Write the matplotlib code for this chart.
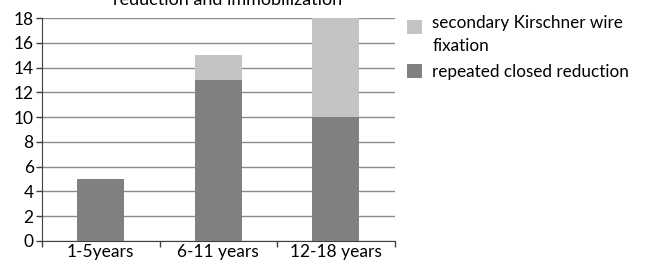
import matplotlib.pyplot as plt
import numpy as np

plt.rcParams['font.family'] = ['Lato', 'DejaVu Sans']

groups = ["1-5years", "6-11 years", "12-18 years"]
closed_reduction = [5, 13, 10]
kirschner_wire = [0, 2, 8]

x = np.arange(len(groups))

fig = plt.figure(figsize=(6.46, 2.65), dpi=100)
ax = fig.add_axes([0.065, 0.0906, 0.546, 0.8414])

ax.bar(x, closed_reduction, width=0.4, color='#808080', zorder=3,
       label='repeated closed reduction')
ax.bar(x, kirschner_wire, width=0.4, bottom=closed_reduction, color='#c4c4c4',
       zorder=3, label='secondary Kirschner wire\nfixation')

ax.set_xlim(-0.5, 2.5)
ax.set_ylim(0, 18)
ax.set_yticks(np.arange(0, 19, 2))
ax.yaxis.grid(True, color='#8c8c8c', linewidth=1)
ax.set_axisbelow(True)

ax.set_xticks(x)
ax.set_xticklabels(groups)
ax.set_xticks([-0.5, 0.5, 1.5, 2.5], minor=True)
ax.tick_params(axis='x', which='major', length=0, labelsize=12.5, pad=2)
ax.tick_params(axis='x', which='minor', length=4, width=1, color='#404040')
ax.tick_params(axis='y', length=4, width=1, color='#404040', labelsize=12.5, pad=2)

for s in ['top', 'right']:
    ax.spines[s].set_visible(False)
for s in ['left', 'bottom']:
    ax.spines[s].set_color('#404040')

handles, labels = ax.get_legend_handles_labels()
leg = fig.legend(handles[::-1], labels[::-1], loc='upper left',
                 bbox_to_anchor=(0.607, 1.0), frameon=False, fontsize=12.3,
                 handlelength=0.85, handleheight=0.85, handletextpad=0.6,
                 labelspacing=0.6)
for t in leg.get_texts():
    t.set_linespacing(1.5)
# square of the two-line entry sits beside its first line
sq = leg.legend_handles[0]
sq.set_y(sq.get_y() + 6)

fig.text(0.353, 1 - 5 / 265, "reduction and immobilization", ha='center',
         va='baseline', fontsize=13)

fig.savefig("out.png", dpi=100)
